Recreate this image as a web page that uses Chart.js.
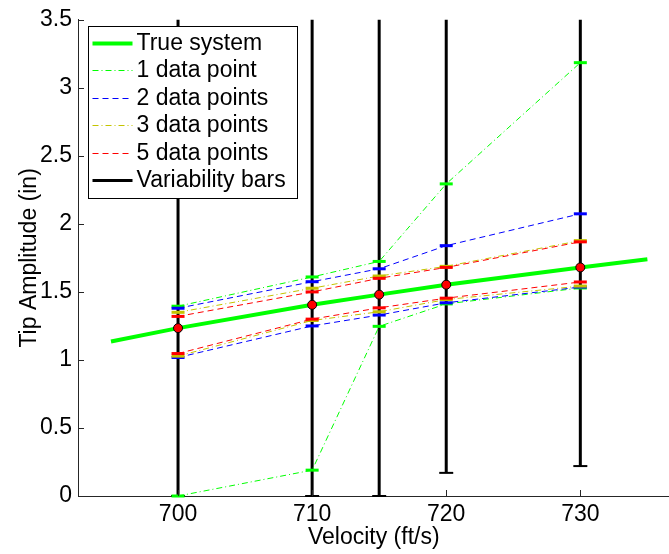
<!DOCTYPE html>
<html>
<head>
<meta charset="utf-8">
<script src="https://cdn.jsdelivr.net/npm/chart.js@4.4.1/dist/chart.umd.min.js"></script>
<style>
  html, body { margin: 0; padding: 0; background: #fff; overflow: hidden; }
</style>
</head>
<body>
<canvas id="tipChart" width="679" height="554"></canvas>
<script>
// ---- data ----
const velocities = [700, 710, 715, 720, 730];
const trueVelocity = [695, 700, 710, 715, 720, 730, 735];
const trueAmplitude = [1.135, 1.234, 1.405, 1.48, 1.553, 1.68, 1.74];
const meanAmplitude = [1.234, 1.405, 1.48, 1.553, 1.68];

const upper1 = [1.395, 1.61, 1.724, 2.294, 3.185];
const lower1 = [0, 0.19, 1.247, 1.412, 1.529];
const upper2 = [1.38, 1.575, 1.67, 1.84, 2.074];
const lower2 = [1.018, 1.25, 1.33, 1.42, 1.536];
const upper3 = [1.35, 1.527, 1.617, 1.688, 1.877];
const lower3 = [1.028, 1.29, 1.354, 1.444, 1.543];
const upper5 = [1.32, 1.50, 1.60, 1.68, 1.868];
const lower5 = [1.047, 1.30, 1.383, 1.454, 1.573];

const barLow = [0, 0, 0, 0.17, 0.22];
const barHigh = [3.5, 3.5, 3.5, 3.5, 3.5];

const xTicks = [700, 710, 720, 730];
const legendLabels = ['True system', '1 data point', '2 data points', '3 data points', '5 data points', 'Variability bars'];

const FONT = '"Liberation Sans", Arial, Helvetica, sans-serif';
const FONT_SIZE = 23;
const AXIS = '#262626';

// style for each estimate series
const series = [
  { upper: upper1, lower: lower1, color: '#00ff00', dash: [6, 3, 1, 3] },
  { upper: upper2, lower: lower2, color: '#0000ff', dash: [6, 4] },
  { upper: upper3, lower: lower3, color: '#c4c400', dash: [6, 3, 1, 3] },
  { upper: upper5, lower: lower5, color: '#ff0000', dash: [6, 4] }
];

function pts(xs, ys) {
  return xs.map((x, i) => ({ x: x, y: ys[i] }));
}

const datasets = [];

// mean markers on top
datasets.push({
  data: pts(velocities, meanAmplitude),
  showLine: false,
  pointRadius: 4.5,
  pointBackgroundColor: '#ff0000',
  pointBorderColor: '#000',
  pointBorderWidth: 1,
  order: 0,
  clip: false
});

series.forEach((s, k) => {
  [s.upper, s.lower].forEach(vals => {
    datasets.push({
      data: pts(velocities, vals),
      showLine: true,
      borderColor: s.color,
      borderWidth: 1,
      borderDash: s.dash,
      pointStyle: 'line',
      pointRadius: 6.5,
      pointBorderColor: s.color,
      pointBorderWidth: 3,
      order: 4 - k,
      clip: false
    });
  });
});

datasets.push({
  data: pts(trueVelocity, trueAmplitude),
  showLine: true,
  borderColor: '#00ff00',
  borderWidth: 4,
  pointRadius: 0,
  order: 6,
  clip: false
});

velocities.forEach((v, i) => {
  datasets.push({
    data: [{ x: v, y: barLow[i] }, { x: v, y: barHigh[i] }],
    showLine: true,
    borderColor: '#000',
    borderWidth: 3,
    pointStyle: 'line',
    pointRadius: ctx => (ctx.dataIndex === 0 ? 7 : 0),
    pointBorderColor: '#000',
    pointBorderWidth: 2,
    order: 7,
    clip: false
  });
});

// inward tick marks and the boxed legend
const decorPlugin = {
  id: 'decor',
  afterDraw(chart) {
    const { ctx, chartArea: a, scales: { x, y } } = chart;
    ctx.save();
    ctx.strokeStyle = AXIS;
    ctx.lineWidth = 1;
    ctx.setLineDash([]);
    ctx.beginPath();
    xTicks.forEach(t => {
      const px = Math.round(x.getPixelForValue(t)) + 0.5;
      ctx.moveTo(px, a.bottom);
      ctx.lineTo(px, a.bottom - 6);
    });
    y.ticks.forEach(t => {
      const py = Math.round(y.getPixelForValue(t.value)) + 0.5;
      ctx.moveTo(a.left, py);
      ctx.lineTo(a.left + 6, py);
    });
    ctx.stroke();

    // legend
    const lx = a.left + 10.5, ly = 26.5, lw = 209, lh = 172;
    ctx.fillStyle = '#fff';
    ctx.fillRect(lx, ly, lw, lh);
    ctx.strokeStyle = '#000';
    ctx.strokeRect(lx, ly, lw, lh);

    const styles = [
      { color: '#00ff00', width: 4, dash: [] },
      { color: series[0].color, width: 1, dash: series[0].dash },
      { color: series[1].color, width: 1, dash: series[1].dash },
      { color: series[2].color, width: 1, dash: series[2].dash },
      { color: series[3].color, width: 1, dash: series[3].dash },
      { color: '#000', width: 3, dash: [] }
    ];
    ctx.font = FONT_SIZE + 'px ' + FONT;
    ctx.textBaseline = 'middle';
    ctx.textAlign = 'left';
    legendLabels.forEach((label, i) => {
      const cy = ly + 16 + i * 27.5;
      const st = styles[i];
      ctx.beginPath();
      ctx.strokeStyle = st.color;
      ctx.lineWidth = st.width;
      ctx.setLineDash(st.dash);
      ctx.moveTo(lx + 4, Math.round(cy) + 0.5);
      ctx.lineTo(lx + 44, Math.round(cy) + 0.5);
      ctx.stroke();
      ctx.fillStyle = '#000';
      ctx.fillText(label, lx + 48, cy + 1);
    });
    ctx.restore();
  }
};

new Chart(document.getElementById('tipChart').getContext('2d'), {
  type: 'scatter',
  data: { datasets: datasets },
  options: {
    responsive: false,
    animation: false,
    devicePixelRatio: 1,
    layout: { padding: { left: 0, right: 0, top: 18, bottom: 0 } },
    plugins: {
      legend: { display: false },
      tooltip: { enabled: false }
    },
    scales: {
      x: {
        type: 'linear',
        min: 692.54,
        max: 736.65,
        afterBuildTicks: scale => { scale.ticks = xTicks.map(v => ({ value: v })); },
        afterFit: scale => { scale.height = 58; },
        grid: { display: true, drawOnChartArea: false, drawTicks: false },
        border: { color: AXIS, width: 1 },
        ticks: { color: '#000', padding: 5, font: { family: FONT, size: FONT_SIZE } },
        title: {
          display: true,
          text: 'Velocity (ft/s)',
          color: '#000',
          padding: { top: 0, bottom: 3 },
          font: { family: FONT, size: FONT_SIZE }
        }
      },
      y: {
        min: 0,
        max: 3.5,
        ticks: {
          stepSize: 0.5,
          color: '#000',
          padding: 6,
          font: { family: FONT, size: FONT_SIZE },
          callback: v => String(v)
        },
        afterFit: scale => { scale.width = 78; },
        grid: { display: true, drawOnChartArea: false, drawTicks: false },
        border: { color: AXIS, width: 1 },
        title: {
          display: true,
          text: 'Tip Amplitude (in)',
          color: '#000',
          padding: { top: 16, bottom: 0 },
          font: { family: FONT, size: FONT_SIZE }
        }
      }
    }
  },
  plugins: [decorPlugin]
});
</script>
</body>
</html>
